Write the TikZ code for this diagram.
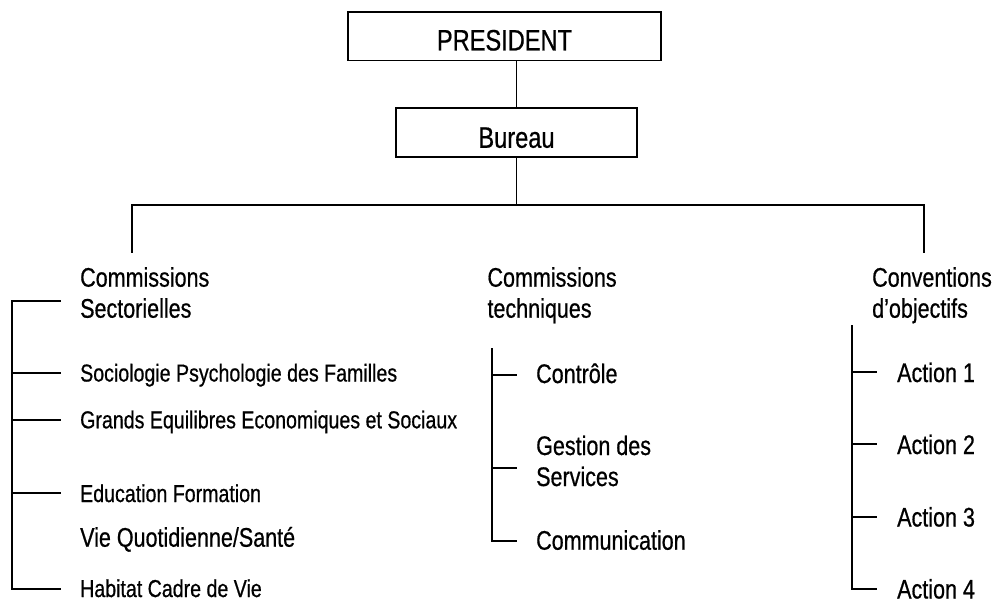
\documentclass[tikz,border=0pt]{standalone}
\usepackage{fontspec}
\setmainfont{Liberation Sans}[FakeStretch=0.8,FakeBold=0.6]
\begin{document}
\tikzset{
  conn/.style={line width=1.9pt},
  boxnode/.style={draw, line width=1.9pt, inner sep=0pt, font=\fontsize{29.5}{35}\selectfont, text depth=0pt},
  big/.style={inner sep=0pt, anchor=base west, font=\fontsize{26.9}{31}\selectfont},
  small/.style={inner sep=0pt, anchor=base west, font=\fontsize{24.5}{29}\selectfont},
}
\begin{tikzpicture}[x=1pt,y=-1pt]
\useasboundingbox (0,0) rectangle (995,598);
% boxes
\node[boxnode, minimum width=313pt, minimum height=48.5pt, text height=28.5pt] (pres) at (504.5,36.2) {PRESIDENT};
\node[boxnode, minimum width=241pt, minimum height=48.4pt, text height=30.5pt] (bur) at (516.5,132.5) {Bureau};
\draw[conn] (bur.north) -- (bur.north |- pres.south);
% main bar
\coordinate (bar) at (bur.south |- 0,204.7);
\coordinate (barL) at (132.3,204.7);
\coordinate (barR) at (924.3,204.7);
\coordinate (dropL) at (132.3,252.5);
\coordinate (dropR) at (924.3,252.5);
\draw[conn] (bur.south) -- (bar);
\draw[conn] (dropL) -- (barL) -- (barR) -- (dropR);
% headers
\node[big] (cs) at (80,286.7) {\begin{tabular}[t]{@{}l@{}}Commissions\\Sectorielles\end{tabular}};
\node[big] (ct) at (487.3,286.7) {\begin{tabular}[t]{@{}l@{}}Commissions\\techniques\end{tabular}};
\node[big] (co) at (872,286.7) {\begin{tabular}[t]{@{}l@{}}Conventions\\d’objectifs\end{tabular}};
% left column
\coordinate (l0) at (12.3,300.7);
\coordinate (l1) at (12.3,372.7);
\coordinate (l2) at (12.3,420);
\coordinate (l3) at (12.3,493.3);
\coordinate (l4) at (12.3,589);
\coordinate (t0) at (60.7,300.7);
\coordinate (t1) at (60.7,372.7);
\coordinate (t2) at (60.7,420);
\coordinate (t3) at (60.7,493.3);
\coordinate (t4) at (60.7,589);
\draw[conn] (t0) -- (l0) -- (l4) -- (t4);
\draw[conn] (l1) -- (t1);
\draw[conn] (l2) -- (t2);
\draw[conn] (l3) -- (t3);
\node[small] (s1) at (80,381.5) {Sociologie Psychologie des Familles};
\node[small] (s2) at (80,428.3) {Grands Equilibres Economiques et Sociaux};
\node[small] (s3) at (80,502) {Education Formation};
\node[big] (s4) at (80,546.7) {Vie Quotidienne/Santé};
\node[small] (s5) at (80,597) {Habitat Cadre de Vie};
% middle column
\coordinate (m0) at (492.3,348.3);
\coordinate (m1) at (492.3,375);
\coordinate (m2) at (492.3,468.3);
\coordinate (m3) at (492.3,540.7);
\coordinate (u1) at (516.7,375);
\coordinate (u2) at (516.7,468.3);
\coordinate (u3) at (516.7,540.7);
\draw[conn] (m0) -- (m3) -- (u3);
\draw[conn] (m1) -- (u1);
\draw[conn] (m2) -- (u2);
\node[big] (c1) at (536,383) {Contrôle};
\node[big] (c2) at (536,455) {\begin{tabular}[t]{@{}l@{}}Gestion des\\Services\end{tabular}};
\node[big] (c3) at (536,549.7) {Communication};
% right column
\coordinate (r0) at (852.3,325);
\coordinate (r1) at (852.3,372);
\coordinate (r2) at (852.3,444);
\coordinate (r3) at (852.3,516.7);
\coordinate (r4) at (852.3,589);
\coordinate (v1) at (877,372);
\coordinate (v2) at (877,444);
\coordinate (v3) at (877,516.7);
\coordinate (v4) at (877,589);
\draw[conn] (r0) -- (r4) -- (v4);
\draw[conn] (r1) -- (v1);
\draw[conn] (r2) -- (v2);
\draw[conn] (r3) -- (v3);
\node[big] (a1) at (897,382) {Action 1};
\node[big] (a2) at (897,454) {Action 2};
\node[big] (a3) at (897,526.5) {Action 3};
\node[big] (a4) at (897,598.5) {Action 4};
\end{tikzpicture}
\end{document}
